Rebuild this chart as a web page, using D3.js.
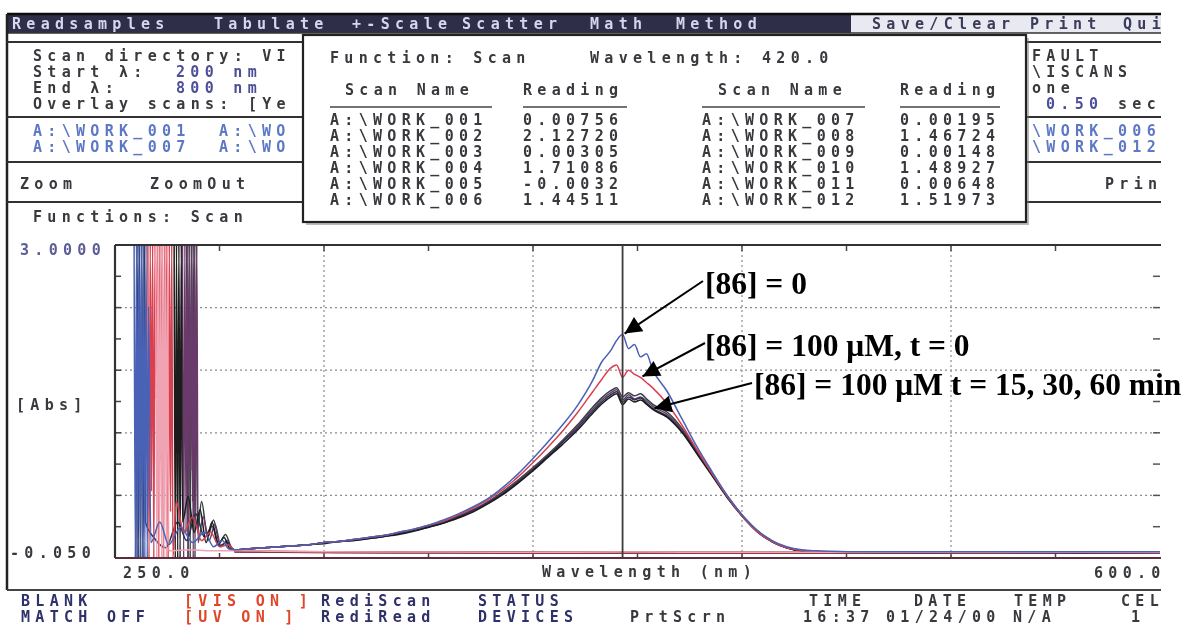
<!DOCTYPE html>
<html>
<head>
<meta charset="utf-8">
<script src="https://cdn.jsdelivr.net/npm/d3@7"></script>
<style>
  html, body { margin: 0; padding: 0; background: #fff; }
  svg { display: block; }
  .mono { font-family: "DejaVu Sans Mono", "Liberation Mono", monospace; font-size: 15px; font-weight: bold; letter-spacing: 5.3px; }
  .note { font-family: "Liberation Serif", "Times New Roman", serif; font-weight: bold; font-size: 31.5px; fill: #000; }
</style>
</head>
<body>
<svg id="chart" width="1186" height="628"></svg>
<script>
// ---- scan data -------------------------------------------------------------
// Shared wavelength grid (nm) for the sample scans above the saturated region
const wavelengths = [290,295,300,305,310,315,320,325,330,335,340,345,350,355,360,365,370,375,380,385,390,395,400,405,410,
                     413,416,418,420,422,424,426,428,430,
                     435,440,445,450,455,460,465,470,475,480,485,490,
                     500,520,540,560,580,600];

// Absorbance of each sample scan on that grid
const scan002 = [0.03,0.04,0.05,0.06,0.07,0.08,0.10,0.11,0.13,0.15,0.17,0.20,0.23,0.27,0.32,0.38,0.45,0.53,0.64,0.77,0.92,1.08,1.25,1.44,1.68,
                 1.86,1.97,2.07,2.12720,1.99,2.03,1.91,1.94,1.79,
                 1.57,1.30,1.03,0.79,0.56,0.37,0.22,0.12,0.06,0.03,0.02,0.015,
                 0.01,0.01,0.012,0.01,0.01,0.01];
const scan004 = [0.03,0.04,0.05,0.06,0.07,0.08,0.10,0.11,0.13,0.15,0.17,0.20,0.23,0.27,0.31,0.37,0.44,0.52,0.62,0.74,0.88,1.03,1.19,1.37,1.57,
                 1.69,1.80,1.83,1.71086,1.78,1.74,1.71,1.66,1.61,
                 1.45,1.24,1.00,0.77,0.55,0.36,0.21,0.11,0.05,0.025,0.015,0.01,
                 0.005,0.008,0.006,0.007,0.005,0.006];
const scan006 = [0.03,0.04,0.05,0.06,0.07,0.08,0.09,0.11,0.12,0.14,0.16,0.18,0.21,0.25,0.29,0.34,0.40,0.48,0.57,0.68,0.80,0.93,1.06,1.20,1.36,
                 1.45,1.52,1.55,1.44511,1.50,1.47,1.49,1.45,1.40,
                 1.32,1.17,0.96,0.75,0.54,0.36,0.21,0.11,0.05,0.02,0.012,0.008,
                 0.005,0.004,0.006,0.005,0.004,0.005];
const scan008 = [0.03,0.04,0.05,0.06,0.07,0.08,0.10,0.11,0.12,0.14,0.16,0.19,0.22,0.25,0.29,0.35,0.41,0.49,0.58,0.69,0.81,0.94,1.08,1.22,1.38,
                 1.47,1.54,1.57,1.46724,1.52,1.49,1.51,1.46,1.41,
                 1.33,1.18,0.97,0.76,0.55,0.36,0.21,0.11,0.05,0.02,0.012,0.008,
                 0.006,0.005,0.006,0.004,0.005,0.005];
const scan010 = [0.03,0.04,0.05,0.06,0.07,0.08,0.10,0.11,0.13,0.14,0.16,0.19,0.22,0.26,0.30,0.35,0.42,0.50,0.59,0.70,0.82,0.95,1.09,1.24,1.40,
                 1.49,1.56,1.59,1.48927,1.54,1.50,1.52,1.48,1.43,
                 1.35,1.20,0.98,0.77,0.55,0.37,0.22,0.11,0.05,0.02,0.012,0.008,
                 0.005,0.006,0.005,0.005,0.004,0.006];
const scan012 = [0.03,0.04,0.05,0.06,0.07,0.08,0.10,0.11,0.13,0.15,0.17,0.19,0.22,0.26,0.30,0.36,0.42,0.50,0.60,0.71,0.83,0.96,1.10,1.25,1.42,
                 1.51,1.58,1.61,1.51973,1.56,1.53,1.55,1.50,1.45,
                 1.37,1.21,0.99,0.77,0.56,0.37,0.22,0.12,0.05,0.02,0.012,0.008,
                 0.006,0.005,0.005,0.006,0.005,0.005];

// Saturated / noisy readings below 290 nm, as [nm, absorbance]
const lead002 = [[256.4,3.0],[256.8,-0.05],[257.2,3.0],[257.6,-0.05],[258.0,3.0],[258.4,-0.05],[258.8,3.0],[259.2,-0.05],[259.6,3.0],[260.0,-0.05],[260.4,3.0],[260.8,-0.05],[261.2,2.4],[262.0,0.1],[265.0,0.3],[268.0,0.08],[272.0,0.25],[276.0,0.1],[280.0,0.2],[283.0,0.06],[286.0,0.12],[288.0,0.04]];
const lead004 = [[261.0,3.0],[261.4,-0.05],[261.8,3.0],[262.2,0.6],[262.6,3.0],[263.0,-0.05],[263.4,3.0],[263.8,1.5],[264.2,3.0],[264.6,-0.05],[265.0,3.0],[265.4,0.9],[265.8,3.0],[266.2,-0.05],[266.6,3.0],[267.0,1.2],[267.4,3.0],[267.8,-0.05],[268.2,3.0],[268.6,0.4],[269.0,3.0],[269.4,-0.05],[270.5,0.5],[273.0,0.2],[276.0,0.35],[279.0,0.12],[282.0,0.2],[285.0,0.06],[288.0,0.08]];
const lead006 = [[269.8,3.0],[270.2,-0.05],[270.6,3.0],[271.0,-0.05],[271.4,3.0],[271.8,-0.05],[272.2,3.0],[272.6,0.3],[274.5,0.55],[276.5,0.2],[278.5,0.42],[280.5,0.1],[282.5,0.3],[284.5,0.08],[286.5,0.15],[288.5,0.04]];
const lead008 = [[257.0,-0.05],[257.4,3.0],[257.8,-0.05],[258.2,3.0],[258.6,-0.05],[259.0,3.0],[259.4,-0.05],[259.8,3.0],[260.2,0.3],[263.0,0.15],[267.0,0.05],[271.0,0.3],[274.0,0.12],[277.0,0.38],[280.0,0.15],[282.5,0.26],[285.0,0.07],[287.5,0.1]];
const lead010 = [[272.6,3.0],[273.0,-0.05],[273.4,3.0],[273.8,0.2],[274.2,3.0],[274.6,-0.05],[275.0,3.0],[275.4,0.8],[275.8,3.0],[276.2,-0.05],[276.6,3.0],[277.0,0.3],[277.4,3.0],[277.8,0.1],[279.5,0.35],[281.5,0.12],[283.5,0.28],[285.5,0.06],[287.5,0.12],[289.0,0.04]];
const lead012 = [[274.0,3.0],[274.4,-0.05],[274.8,3.0],[275.2,-0.05],[275.6,3.0],[276.0,0.5],[276.4,3.0],[276.8,-0.05],[277.2,3.0],[277.6,0.2],[279.0,0.5],[281.0,0.15],[283.0,0.32],[285.0,0.1],[287.0,0.18],[289.0,0.05]];
const lead001 = [[263.6,3.0],[264.0,-0.05],[264.4,3.0],[264.8,-0.05],[265.2,3.0],[265.6,-0.05],[266.0,3.0],[266.4,-0.05],[266.8,3.0],[267.2,-0.05],[267.6,3.0],[268.0,0.02],[275.0,0.03],[282.0,0.02]];

// Blank scans on a coarser grid
const blankWavelengths = [290,320,360,400,420,440,480,520,560,600];
const blank001 = [0.020,0.010,0.008,0.006,0.00756,0.007,0.006,0.005,0.006,0.005];
const blank003 = [0.015,0.008,0.005,0.004,0.00305,0.003,0.004,0.003,0.002,0.003];
const blank005 = [0.010,0.000,-0.002,-0.003,-0.0032,-0.003,-0.002,-0.003,-0.002,-0.002];
const blank007 = [0.012,0.006,0.003,0.002,0.00195,0.002,0.002,0.001,0.002,0.001];
const blank009 = [0.011,0.005,0.002,0.0015,0.00148,0.0015,0.001,0.001,0.0015,0.001];
const blank011 = [0.018,0.010,0.008,0.007,0.00648,0.006,0.006,0.005,0.006,0.005];

// Readings table at the cursor wavelength
const cursorWavelength = 420;
const scanNamesA = ["A:\\WORK_001","A:\\WORK_002","A:\\WORK_003","A:\\WORK_004","A:\\WORK_005","A:\\WORK_006"];
const readingsA  = [0.00756, 2.12720, 0.00305, 1.71086, -0.0032, 1.44511];
const scanNamesB = ["A:\\WORK_007","A:\\WORK_008","A:\\WORK_009","A:\\WORK_010","A:\\WORK_011","A:\\WORK_012"];
const readingsB  = [0.00195, 1.46724, 0.00148, 1.48927, 0.00648, 1.51973];

// Axis range, grid and tick labels
const xDomain = [250, 600];
const yDomain = [-0.05, 3.0];
const xGrid = [320, 390, 460, 530];
const yGrid = [0.56, 1.17, 1.78, 2.39];
const xMinor = [285, 320, 355, 390, 425, 460, 495, 530, 565];
const yMinor = [0.255, 0.56, 0.865, 1.17, 1.475, 1.78, 2.085, 2.39, 2.695];
const yTickLabels = ["3.0000", "-0.050"];
const xTickLabels = ["250.0", "600.0"];

const notes = ["[86] = 0", "[86] = 100 \u03bcM, t = 0", "[86] = 100 \u03bcM t = 15, 30, 60 min"];

// ---- drawing -------------------------------------------------------------------
const svg = d3.select("#chart");
const defs = svg.append("defs");
defs.append("filter").attr("id", "soft")
  .attr("x", "-2%").attr("y", "-2%").attr("width", "104%").attr("height", "104%")
  .append("feGaussianBlur").attr("stdDeviation", 0.55);
defs.append("clipPath").attr("id", "screenClip")
  .append("rect").attr("x", 0).attr("y", 0).attr("width", 1161).attr("height", 628);
defs.append("marker").attr("id", "head")
  .attr("viewBox", "0 0 10 10").attr("refX", 10).attr("refY", 5)
  .attr("markerWidth", 24).attr("markerHeight", 17)
  .attr("markerUnits", "userSpaceOnUse").attr("orient", "auto")
  .append("path").attr("d", "M0,0L10,5L0,10Z").attr("fill", "#000");

const screen = svg.append("g").attr("clip-path", "url(#screenClip)")
  .append("g").attr("filter", "url(#soft)");

const ink = "#38383e";
const blueInk = "#4d4f98";
const fileInk = "#5d78c4";
const navyInk = "#2f3068";

function label(g, x, y, s, color) {
  return g.append("text").attr("class", "mono")
    .attr("x", x).attr("y", y).attr("dominant-baseline", "central")
    .attr("fill", color || ink).text(s);
}
function rule(g, x1, y1, x2, y2, w, c) {
  g.append("line").attr("x1", x1).attr("y1", y1).attr("x2", x2).attr("y2", y2)
    .attr("stroke", c || "#2a2a2a").attr("stroke-width", w || 1.5);
}

// menu bar
screen.append("rect").attr("x", 7).attr("y", 14).attr("width", 844).attr("height", 19).attr("fill", "#2e2e48");
screen.append("rect").attr("x", 851).attr("y", 14).attr("width", 310).attr("height", 19).attr("fill", "#e9e9f1");
rule(screen, 7, 14, 1161, 14, 2.5, "#111");
rule(screen, 7, 33, 1161, 33, 1.5, "#333");
[["Readsamples", 12], ["Tabulate", 214], ["+-Scale", 352], ["Scatter", 462], ["Math", 590], ["Method", 676]]
  .forEach(([s, x]) => label(screen, x, 24, s, "#d6d6ee"));
[["Save/Clear", 872], ["Print", 1030], ["Quit", 1123]]
  .forEach(([s, x]) => label(screen, x, 24, s, "#3a3a5a"));

// panel frame and separators
rule(screen, 7, 14, 7, 590, 2.5, "#222");
rule(screen, 7, 590, 1161, 590, 2, "#444");
rule(screen, 7, 42, 1161, 42, 2, "#333");
rule(screen, 7, 117, 1161, 117, 2, "#333");
rule(screen, 7, 162, 1161, 162, 2, "#333");
rule(screen, 7, 202, 1161, 202, 2, "#333");

// settings panel
label(screen, 33, 56, "Scan directory: VI");
label(screen, 33, 72, "Start \u03bb:");
label(screen, 176, 72, "200 nm", blueInk);
label(screen, 33, 88, "End \u03bb:");
label(screen, 176, 88, "800 nm", blueInk);
label(screen, 33, 104, "Overlay scans: [Ye");
label(screen, 1032, 56, "FAULT");
label(screen, 1032, 72, "\\ISCANS");
label(screen, 1032, 88, "one");
label(screen, 1046, 104, "0.50", blueInk);
label(screen, 1118, 104, "sec");

// selected scan files
label(screen, 33, 131, scanNamesA[0], fileInk);
label(screen, 219, 131, "A:\\WO", fileInk);
label(screen, 33, 147, scanNamesB[0], fileInk);
label(screen, 219, 147, "A:\\WO", fileInk);
label(screen, 1032, 131, scanNamesA[5].slice(2), fileInk);
label(screen, 1032, 147, scanNamesB[5].slice(2), fileInk);

// zoom row and function name
label(screen, 20, 184, "Zoom");
label(screen, 150, 184, "ZoomOut");
label(screen, 1105, 184, "Print");
label(screen, 33, 217, "Functions: Scan");

// ---- spectrum plot ----
const x = d3.scaleLinear().domain(xDomain).range([115, 1160]);
const y = d3.scaleLinear().domain(yDomain).range([558, 245]);
const plot = screen.append("g");

// dotted grid
plot.selectAll("line.gx").data(xGrid).join("line").attr("class", "gx")
  .attr("x1", d => x(d)).attr("x2", d => x(d)).attr("y1", y(yDomain[1])).attr("y2", y(yDomain[0]))
  .attr("stroke", "#8c8c8c").attr("stroke-width", 1.2).attr("stroke-dasharray", "2,3");
plot.selectAll("line.gy").data(yGrid).join("line").attr("class", "gy")
  .attr("x1", x(xDomain[0])).attr("x2", x(xDomain[1])).attr("y1", d => y(d)).attr("y2", d => y(d))
  .attr("stroke", "#8c8c8c").attr("stroke-width", 1.2).attr("stroke-dasharray", "2,3");

// minor ticks on the frame
plot.selectAll("line.ty").data(yMinor).join("line").attr("class", "ty")
  .attr("x1", x(xDomain[0])).attr("x2", x(xDomain[0]) + 6).attr("y1", d => y(d)).attr("y2", d => y(d))
  .attr("stroke", "#444").attr("stroke-width", 1.5);
plot.selectAll("line.tyr").data(yMinor).join("line").attr("class", "tyr")
  .attr("x1", x(xDomain[1]) - 7).attr("x2", x(xDomain[1])).attr("y1", d => y(d)).attr("y2", d => y(d))
  .attr("stroke", "#555").attr("stroke-width", 1.5);
plot.selectAll("line.tx").data(xMinor).join("line").attr("class", "tx")
  .attr("x1", d => x(d)).attr("x2", d => x(d)).attr("y1", y(yDomain[1])).attr("y2", y(yDomain[1]) + 6)
  .attr("stroke", "#444").attr("stroke-width", 1.5);
plot.selectAll("line.tb").data(xMinor).join("line").attr("class", "tb")
  .attr("x1", d => x(d)).attr("x2", d => x(d)).attr("y1", y(yDomain[0]) - 5).attr("y2", y(yDomain[0]))
  .attr("stroke", "#444").attr("stroke-width", 1.5);

// spectra
const line = d3.line().x(d => x(d[0])).y(d => y(d[1])).curve(d3.curveMonotoneX);
const zipGrid = (grid, vals) => grid.map((w, i) => [w, vals[i]]);
const series = [
  { pts: zipGrid(blankWavelengths, blank003), color: "#8a2c3c" },
  { pts: zipGrid(blankWavelengths, blank005), color: "#c24a5a" },
  { pts: zipGrid(blankWavelengths, blank007), color: "#4a2030" },
  { pts: zipGrid(blankWavelengths, blank009), color: "#a03848" },
  { pts: zipGrid(blankWavelengths, blank011), color: "#6c2a3a" },
  { pts: lead012.concat(zipGrid(wavelengths, scan012)), color: "#34423f" },
  { pts: lead010.concat(zipGrid(wavelengths, scan010)), color: "#6a3a6a" },
  { pts: lead008.concat(zipGrid(wavelengths, scan008)), color: "#27304f" },
  { pts: lead006.concat(zipGrid(wavelengths, scan006)), color: "#1b1b1b" },
  { pts: lead004.concat(zipGrid(wavelengths, scan004)), color: "#d8404f" },
  { pts: lead001.concat(zipGrid(blankWavelengths, blank001)), color: "#f0a3b3" },
  { pts: lead002.concat(zipGrid(wavelengths, scan002)), color: "#4a62b5" }
];
plot.selectAll("path.scan").data(series).join("path").attr("class", "scan")
  .attr("d", d => line(d.pts)).attr("fill", "none")
  .attr("stroke", d => d.color).attr("stroke-width", 1.5).attr("stroke-linejoin", "round");

// frame and cursor
rule(plot, x(xDomain[0]), y(yDomain[1]), x(xDomain[1]) + 1, y(yDomain[1]), 2.2, "#333");
rule(plot, x(xDomain[0]), y(yDomain[1]), x(xDomain[0]), y(yDomain[0]), 2.2, "#333");
rule(plot, x(xDomain[0]), y(yDomain[0]), x(xDomain[1]) + 1, y(yDomain[0]), 2.2, "#5a2f3c");
rule(plot, x(cursorWavelength), y(yDomain[1]), x(cursorWavelength), y(yDomain[0]), 1.8, "#3a3a3a");

// axis labels
label(screen, 20, y(yDomain[1]) + 5, yTickLabels[0], "#5c5c96");
label(screen, 16, 405, "[Abs]");
label(screen, 10, y(yDomain[0]) - 5, yTickLabels[1]);
label(screen, x(xDomain[0]) + 8, 573, xTickLabels[0]);
label(screen, 542, 572, "Wavelength (nm)");
label(screen, x(xDomain[1]) - 66, 573, xTickLabels[1]);

// status lines
label(screen, 21, 601, "BLANK", navyInk);
label(screen, 21, 617, "MATCH OFF", navyInk);
label(screen, 184, 601, "[VIS ON ]", "#e0472c");
label(screen, 184, 617, "[UV ON  ]", "#e0472c");
label(screen, 321, 601, "RediScan", navyInk);
label(screen, 321, 617, "RediRead", navyInk);
label(screen, 478, 601, "STATUS", navyInk);
label(screen, 478, 617, "DEVICES", navyInk);
label(screen, 630, 617, "PrtScrn");
label(screen, 809, 601, "TIME");
label(screen, 803, 617, "16:37");
label(screen, 914, 601, "DATE");
label(screen, 886, 617, "01/24/00");
label(screen, 1014, 601, "TEMP");
label(screen, 1013, 617, "N/A");
label(screen, 1121, 601, "CELL");
label(screen, 1131, 617, "1");

// readings pop-up
const pop = screen.append("g");
pop.append("rect").attr("x", 306).attr("y", 38).attr("width", 723).attr("height", 187).attr("fill", "#777").attr("opacity", 0.5);
pop.append("rect").attr("x", 303).attr("y", 35).attr("width", 723).attr("height", 187)
  .attr("fill", "#fff").attr("stroke", "#222").attr("stroke-width", 2.2);
label(pop, 330, 58, "Function: Scan");
label(pop, 590, 58, "Wavelength: " + cursorWavelength.toFixed(1));
label(pop, 345, 90, "Scan Name");
label(pop, 523, 90, "Reading");
label(pop, 718, 90, "Scan Name");
label(pop, 900, 90, "Reading");
rule(pop, 330, 107, 492, 107, 1.6, "#444");
rule(pop, 523, 107, 627, 107, 1.6, "#444");
rule(pop, 702, 107, 865, 107, 1.6, "#444");
rule(pop, 900, 107, 1000, 107, 1.6, "#444");
const fmt = v => v < 0 ? v.toFixed(4) : v.toFixed(5);
const rowY = i => 120 + i * 16;
scanNamesA.forEach((s, i) => label(pop, 330, rowY(i), s));
readingsA.forEach((v, i) => label(pop, 523, rowY(i), fmt(v)));
scanNamesB.forEach((s, i) => label(pop, 702, rowY(i), s));
readingsB.forEach((v, i) => label(pop, 900, rowY(i), fmt(v)));

// ---- annotations ----
const ann = svg.append("g");
const noteTips = [
  [cursorWavelength, scan002[wavelengths.indexOf(420)]],
  [426, scan004[wavelengths.indexOf(426)]],
  [430, scan006[wavelengths.indexOf(430)]]
];
const noteStarts = [[703, 281], [705, 343], [752, 383]];
const noteText = [[705, 294], [705, 356], [754, 395]];
noteTips.forEach((tip, i) => {
  ann.append("line")
    .attr("x1", noteStarts[i][0]).attr("y1", noteStarts[i][1])
    .attr("x2", x(tip[0]) + 2).attr("y2", y(tip[1]) - 1)
    .attr("stroke", "#000").attr("stroke-width", 2)
    .attr("marker-end", "url(#head)");
  ann.append("text").attr("class", "note")
    .attr("x", noteText[i][0]).attr("y", noteText[i][1]).text(notes[i]);
});
</script>
</body>
</html>
